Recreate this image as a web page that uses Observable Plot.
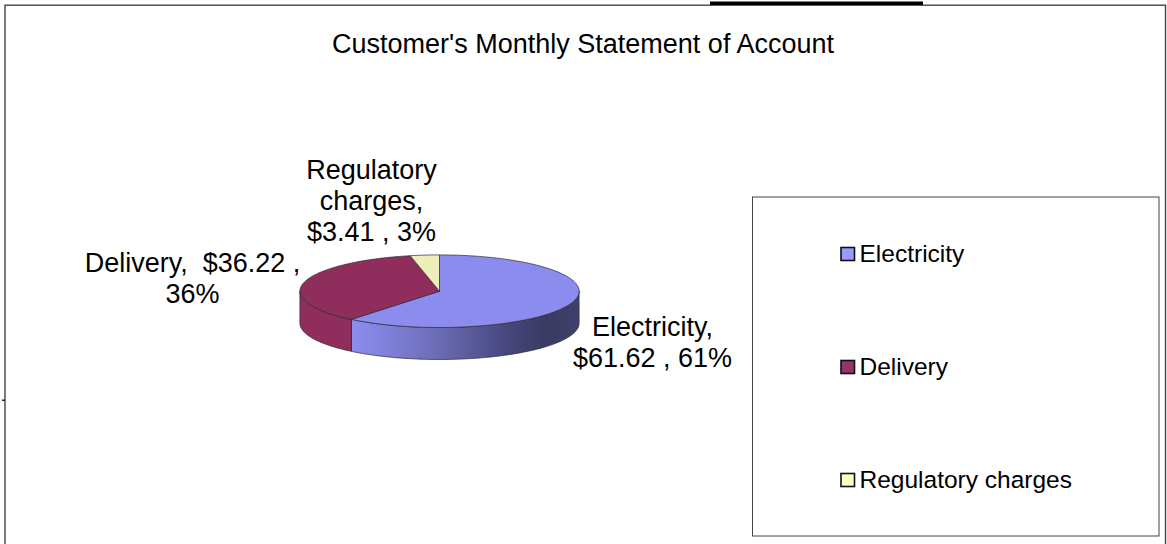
<!DOCTYPE html>
<html>
<head>
<meta charset="utf-8">
<style>html,body{margin:0;padding:0;background:#fff;}svg{display:block;}</style>
<script src="https://cdn.jsdelivr.net/npm/d3@7"></script>
<script src="https://cdn.jsdelivr.net/npm/@observablehq/plot@0.6"></script>
</head>
<body>
<div id="chart"></div>
<script>
const categories = ["Electricity", "Delivery", "Regulatory charges"];
const amounts = [61.62, 36.22, 3.41];
const topColors = ["#8c8cee", "#8f2d5d", "#eeeebb"];
const swatchColors = ["#9999ff", "#993366", "#ffffcc"];
const dataLabels = ["Electricity,\n$61.62 , 61%", "Delivery,  $36.22 ,\n36%", "Regulatory\ncharges,\n$3.41 , 3%"];
const labelX = [652, 192, 371];
const labelY = [341.5, 277, 199.5];
const legendY = [254, 367, 480];

const W = 1167, H = 544;
const FONT = "Liberation Sans, Arial, sans-serif";
const cx = 439, cy = 290.7, rx = 139.6, ry = 36.3, depth = 32;
const total = d3.sum(amounts);
const rad = d => d * Math.PI / 180;
const P = (t, dy = 0) => [cx + rx * Math.sin(t), cy - ry * Math.cos(t) + dy];
function arc(a, b, dy = 0) {
  const n = Math.max(2, Math.ceil(Math.abs(b - a) / rad(1.5)));
  return d3.range(n + 1).map(i => P(a + (b - a) * i / n, dy));
}
let acc = 0;
const spans = amounts.map(v => { const a = acc; acc += v / total * 2 * Math.PI; return [a, acc]; });
const topFace = ([a, b]) => [[cx, cy], ...arc(a, b), [cx, cy]];
const side = (a, b) => { const up = arc(a, b); const lo = arc(b, a, depth); return [...up, ...lo, up[0]]; };
const polygon = (pts, fill) => Plot.line(pts, {x: d => d[0], y: d => d[1], fill, stroke: "#2a2a33", strokeWidth: 0.7, curve: "linear"});

const gradient = () => {
  const s = d3.create("svg:linearGradient").attr("id", "sideGrad").attr("gradientUnits", "userSpaceOnUse")
    .attr("x1", P(spans[0][1])[0]).attr("x2", cx + rx).attr("y1", 0).attr("y2", 0);
  [[0, "#8d8df0"], [0.35, "#6f6fbb"], [0.7, "#45457a"], [0.85, "#3a3a63"], [1, "#40406c"]]
    .forEach(([o, c]) => s.append("stop").attr("offset", o).attr("stop-color", c));
  return d3.create("svg:defs").node().appendChild(s.node()).parentNode;
};

const rectMark = (x1, y1, x2, y2, o) => Plot.rect([0], {x1: () => x1, y1: () => y1, x2: () => x2, y2: () => y2, ...o});

const plot = Plot.plot({
  width: W, height: H, margin: 0,
  x: {domain: [0, W], range: [0, W], axis: null},
  y: {domain: [0, H], range: [0, H], axis: null},
  style: {background: "#fff", fontFamily: FONT},
  marks: [
    gradient,
    rectMark(5, 5.2, 1165.5, 600, {fill: "#fff", stroke: "#444", strokeWidth: 1.4}),
    rectMark(710, 1.5, 923, 5, {fill: "#000"}),
    rectMark(2, 399.5, 5, 401, {fill: "#222"}),
    polygon(side(rad(90), spans[0][1]), "url(#sideGrad)"),
    polygon(side(spans[0][1], rad(270)), topColors[1]),
    ...spans.map((s, i) => polygon(topFace(s), topColors[i])),
    Plot.text(["Customer's Monthly Statement of Account"], {x: () => 582.5, y: () => 44, fontSize: 27, fill: "#000", fontFamily: FONT}),
    Plot.text(dataLabels, {x: (d, i) => labelX[i], y: (d, i) => labelY[i], fontSize: 27, lineHeight: 1.15, fill: "#000", fontFamily: FONT}),
    rectMark(752.5, 197, 1159, 536, {fill: "#fff", stroke: "#444", strokeWidth: 1}),
    Plot.rect(categories, {x1: () => 841, x2: () => 854.5, y1: (d, i) => legendY[i] - 6.5, y2: (d, i) => legendY[i] + 6.5, fill: (d, i) => swatchColors[i], stroke: "#111", strokeWidth: 1.6}),
    Plot.text(categories, {x: () => 859, y: (d, i) => legendY[i], text: d => d, textAnchor: "start", fontSize: 24.5, fill: "#000", fontFamily: FONT})
  ]
});
document.getElementById("chart").append(plot);
</script>
</body>
</html>
